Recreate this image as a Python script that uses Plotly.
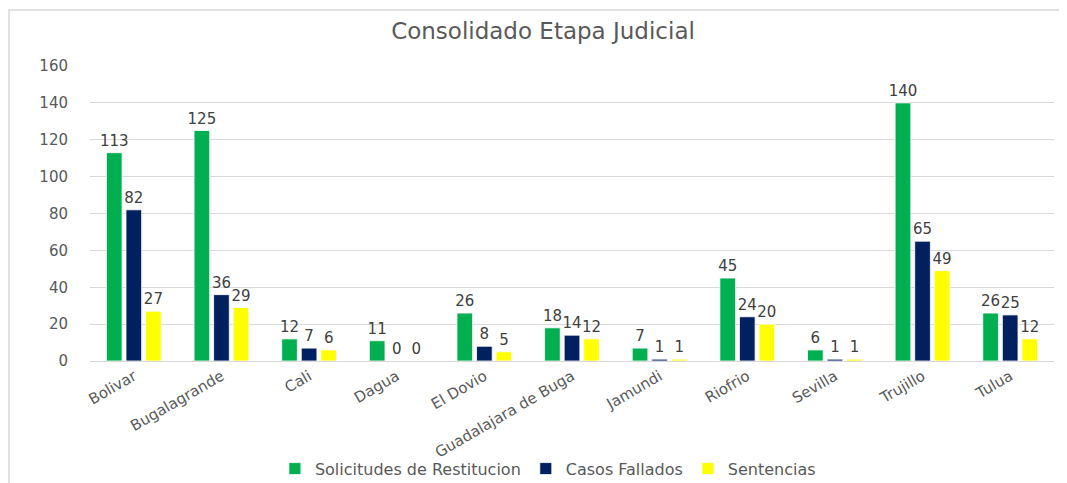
import plotly.graph_objects as go

categories = ["Bolivar", "Bugalagrande", "Cali", "Dagua", "El Dovio", "Guadalajara de Buga",
              "Jamundi", "Riofrio", "Sevilla", "Trujillo", "Tulua"]
solicitudes = [113, 125, 12, 11, 26, 18, 7, 45, 6, 140, 26]
casos = [82, 36, 7, 0, 8, 14, 1, 24, 1, 65, 25]
sentencias = [27, 29, 6, 0, 5, 12, 1, 20, 1, 49, 12]
y_ticks = [0, 20, 40, 60, 80, 100, 120, 140, 160]

series = [
    ("Solicitudes de Restitucion", solicitudes, "#00B050"),
    ("Casos Fallados", casos, "#002060"),
    ("Sentencias", sentencias, "#FFFF00"),
]

FONT = "DejaVu Sans"
OFF = 8  # default page body margin
W, H = 1067 - OFF, 483 - OFF

fig = go.Figure()
for name, vals, color in series:
    fig.add_trace(go.Bar(
        x=categories, y=vals, name=name,
        marker=dict(color=color, line=dict(color="white", width=0.8)),
        text=[str(v) for v in vals], textposition="outside",
        textfont=dict(family=FONT, size=15, color="#404040"),
        constraintext="none", cliponaxis=False,
    ))

fig.update_layout(
    width=W, height=H,
    margin=dict(l=90 - OFF, r=13, t=66 - OFF, b=H - (66 - OFF) - 295, autoexpand=False),
    paper_bgcolor="white", plot_bgcolor="white",
    barmode="group", bargap=0.33, bargroupgap=0.2,
    font=dict(family=FONT, color="#595959"),
    title=dict(text="Consolidado Etapa Judicial", x=(543 - OFF) / W, xanchor="center",
               y=1 - (31 - OFF) / H, yanchor="middle", automargin=False,
               font=dict(family=FONT, size=23, color="#595959")),
    legend=dict(orientation="h", x=0.475, xanchor="center", y=-0.365, yanchor="middle",
                font=dict(family=FONT, size=16, color="#595959"),
                bgcolor="rgba(0,0,0,0)", itemwidth=30, traceorder="normal"),
    showlegend=True,
    yaxis=dict(range=[0, 160], tickvals=y_ticks, showgrid=True, gridcolor="#D9D9D9",
               gridwidth=1, zeroline=False, showline=False, ticks="", automargin=False,
               tickfont=dict(family=FONT, size=15, color="#595959"),
               ticklabelstandoff=21),
    xaxis=dict(showline=True, linecolor="#D9D9D9", linewidth=1, ticks="", automargin=False,
               tickangle=-30, tickfont=dict(family=FONT, size=15, color="#595959")),
    shapes=[dict(type="rect", xref="paper", yref="paper",
                 x0=(9 - 90) / 964, x1=1.1, y0=-0.6, y1=(361 - 10) / 295,
                 line=dict(color="#D9D9D9", width=1.5), fillcolor="rgba(0,0,0,0)",
                 layer="below")],
)

fig.write_html("out.html")
